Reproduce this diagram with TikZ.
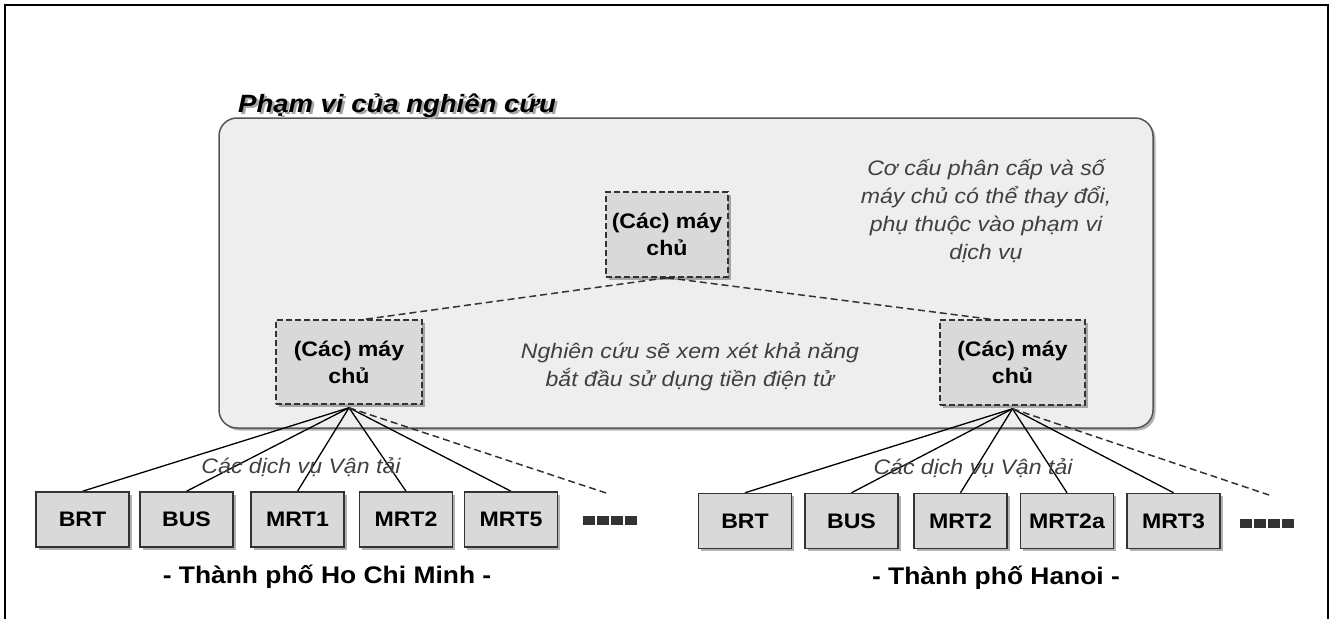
\documentclass[tikz,border=0pt]{standalone}
\usepackage{fontspec}
\setmainfont{Liberation Sans}[FakeStretch=1.1]
\usetikzlibrary{shadows,calc}
\pgfdeclarelayer{bg}
\pgfdeclarelayer{lines}
\pgfsetlayers{bg,lines,main}
\definecolor{boxfill}{HTML}{D9D9D9}
\definecolor{areafill}{HTML}{EEEEEE}
\definecolor{edgecol}{HTML}{333333}
\definecolor{notecol}{HTML}{404040}
\definecolor{areaedge}{HTML}{555555}
\tikzset{
  shad/.style={drop shadow={shadow xshift=2.5pt,shadow yshift=-2.5pt,fill=black,opacity=0.3}},
  area/.style={draw=areaedge, line width=1.5pt, fill=areafill, rounded corners=18pt, minimum width=934pt, minimum height=310pt, inner sep=0pt, shad},
  server/.style={draw=edgecol, dash pattern=on 6pt off 3pt, line width=1.5pt, fill=boxfill, align=center, inner sep=0pt, font=\fontsize{21}{27}\selectfont\bfseries, shad},
  svc/.style={draw=edgecol, line width=1.5pt, fill=boxfill, minimum width=93pt, minimum height=55pt, inner sep=0pt, font=\fontsize{21}{25}\selectfont\bfseries, shad},
  link/.style={line width=1.3pt, draw=black},
  dlink/.style={line width=1.5pt, draw=edgecol, dash pattern=on 7pt off 4pt},
  note/.style={text=notecol, font=\fontsize{21}{28}\selectfont\itshape, align=center, inner sep=0pt},
  city/.style={font=\fontsize{24}{28}\selectfont\bfseries, inner sep=0pt},
  titletext/.style={font=\fontsize{25}{30}\selectfont\bfseries\itshape, inner sep=0pt, anchor=base west},
  more/.style={fill=edgecol},
}
\begin{document}
\begin{tikzpicture}[x=1pt,y=-1pt]
\useasboundingbox (0,0) rectangle (1330,619);
% page frame
\draw[line width=2pt] (5,619) -- (5,5) -- (1328,5) -- (1328,619);
% scope area
\begin{pgfonlayer}{bg}
\node[area] (scope) at (686,273) {};
\end{pgfonlayer}
\node[titletext, text=black!35] (titleshadow) at (240.5,114.5) {Phạm vi của nghiên cứu};
\node[titletext] (title) at (238,112) {Phạm vi của nghiên cứu};
% servers
\node[server, minimum width=122pt, minimum height=85pt] (top) at (667,234.5) {(Các) máy\\chủ};
\node[server, minimum width=146pt, minimum height=84pt] (hcm) at (349,362) {(Các) máy\\chủ};
\node[server, minimum width=145pt, minimum height=85pt] (hn) at (1012.5,362.5) {(Các) máy\\chủ};
% notes
\node[note] (note1) at (986,211) {Cơ cấu phân cấp và số\\máy chủ có thể thay đổi,\\phụ thuộc vào phạm vi\\dịch vụ};
\node[note] (note2) at (690,367) {Nghiên cứu sẽ xem xét khả năng\\bắt đầu sử dụng tiền điện tử};
% transport services HCM
\node[svc] (h1) at (82.5,519.5) {BRT};
\node[svc] (h2) at (186.5,519.5) {BUS};
\node[svc] (h3) at (297.5,519.5) {MRT1};
\node[svc] (h4) at (406,519.5) {MRT2};
\node[svc] (h5) at (511,519.5) {MRT5};
\coordinate (hmore) at (606,493);
% transport services Hanoi
\node[svc] (n1) at (745,521) {BRT};
\node[svc] (n2) at (851.5,521) {BUS};
\node[svc] (n3) at (960.5,521) {MRT2};
\node[svc] (n4) at (1067,521) {MRT2a};
\node[svc] (n5) at (1173.5,521) {MRT3};
\coordinate (nmore) at (1269,495);
% connectors
\begin{pgfonlayer}{lines}
\draw[dlink] (top.south) -- ($(hcm.north)+(16,0)$);
\draw[dlink] (top.south) -- ($(hn.north)+(-22,0)$);
\foreach \b in {h1,h2,h3,h4,h5} \draw[link] ($(hcm.south)+(0,3)$) -- (\b.north);
\draw[dlink] ($(hcm.south)+(0,3)$) -- (hmore);
\foreach \b in {n1,n2,n3,n4,n5} \draw[link] ($(hn.south)+(0,3)$) -- (\b.north);
\draw[dlink] ($(hn.south)+(0,3)$) -- (nmore);
\end{pgfonlayer}
% labels
\node[note, font=\fontsize{21}{25}\selectfont\itshape] (lab1) at (301,467) {Các dịch vụ Vận tải};
\node[note, font=\fontsize{21}{25}\selectfont\itshape] (lab2) at (973,468) {Các dịch vụ Vận tải};
\node[city] (city1) at (327,577) {- Thành phố Ho Chi Minh -};
\node[city] (city2) at (996,578) {- Thành phố Hanoi -};
% continuation marks
\foreach \i in {0,1,2,3} \fill[more] (583+\i*14,515.5) rectangle ++(12,9);
\foreach \i in {0,1,2,3} \fill[more] (1240+\i*14,518.5) rectangle ++(12,9);
\end{tikzpicture}
\end{document}
